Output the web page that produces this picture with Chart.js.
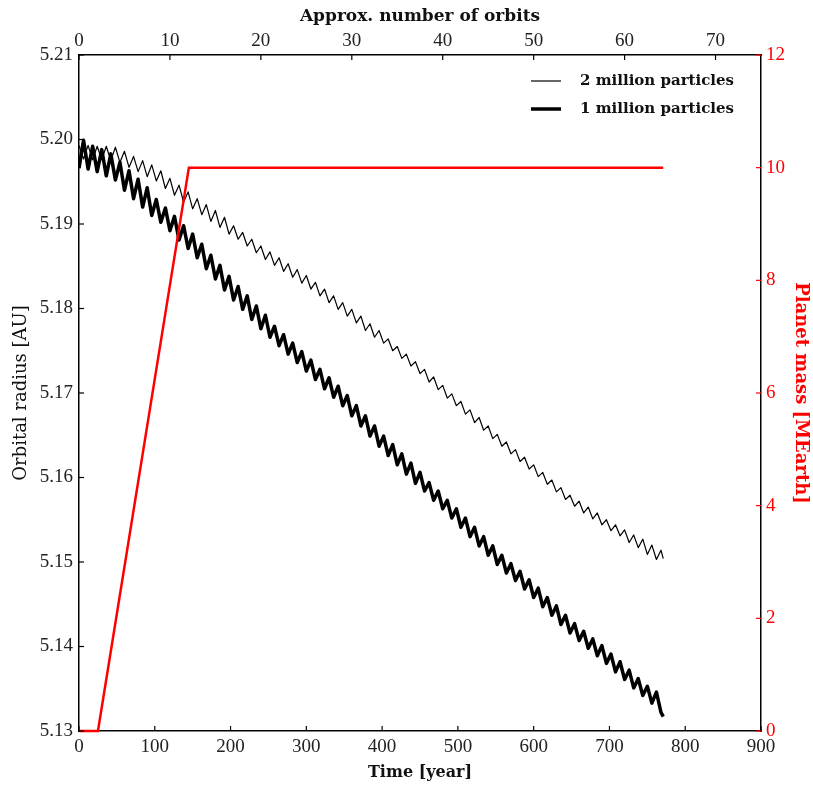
<!DOCTYPE html>
<html>
<head>
<meta charset="utf-8">
<script src="https://cdn.jsdelivr.net/npm/chart.js@4.4.0/dist/chart.umd.min.js"></script>
<style>
  body { margin: 0; background: #fff; }
</style>
</head>
<body>
<canvas id="orbit" width="813" height="787"></canvas>
<script>
// time in years, sampled at the peaks/troughs of the orbital wiggle
var timeYears = [0,6,12,18,24,30,36,42,48,54,60,66,72,78,84,90,96,102,108,114,120,126,132,138,144,150,156,162,168,174,180,186,192,198,204,210,216,222,228,234,240,246,252,258,264,270,276,282,288,294,300,306,312,318,324,330,336,342,348,354,360,366,372,378,384,390,396,402,408,414,420,426,432,438,444,450,456,462,468,474,480,486,492,498,504,510,516,522,528,534,540,546,552,558,564,570,576,582,588,594,600,606,612,618,624,630,636,642,648,654,660,666,672,678,684,690,696,702,708,714,720,726,732,738,744,750,756,762,768,771];

// orbital radius [AU], 2 million particles
var radius2M = [5.1993,5.1977,5.1993,5.1976,5.1992,5.1976,5.1992,5.1975,5.1991,
  5.1973,5.1986,5.1967,5.1980,5.1962,5.1975,5.1956,5.1970,
  5.1951,5.1963,5.1942,5.1954,5.1934,5.1946,5.1926,5.1938,5.1918,
  5.1930,5.1911,5.1923,5.1903,5.1916,5.1896,5.1908,5.1888,
  5.1898,5.1882,5.1890,5.1874,5.1882,5.1866,5.1874,5.1858,
  5.1867,5.1851,5.1860,5.1844,5.1853,5.1837,5.1846,5.1830,5.1839,
  5.1823,5.1831,5.1815,5.1823,5.1807,5.1815,5.1799,5.1807,
  5.1791,5.1799,5.1783,5.1791,5.1774,5.1782,5.1766,5.1774,
  5.1759,5.1764,5.1750,5.1755,5.1741,5.1746,5.1732,5.1737,5.1723,
  5.1728,5.1713,5.1719,5.1704,5.1709,5.1694,5.1699,5.1685,
  5.1690,5.1675,5.1680,5.1665,5.1671,5.1656,5.1661,5.1646,
  5.1651,5.1637,5.1642,5.1628,5.1633,5.1619,5.1624,5.1610,5.1615,
  5.1601,5.1606,5.1592,5.1597,5.1583,5.1588,5.1574,5.1579,
  5.1566,5.1572,5.1558,5.1565,5.1551,5.1558,5.1544,5.1550,
  5.1537,5.1544,5.1531,5.1538,5.1523,5.1532,5.1517,5.1527,5.1509,5.1520,5.1503,5.1514,
  5.1504];

// orbital radius [AU], 1 million particles
var radius1M = [5.1966,5.1999,5.1965,5.1992,5.1962,5.1988,5.1957,5.1983,5.1952,
  5.1973,5.1940,5.1963,5.1930,5.1953,5.1920,5.1943,5.1910,
  5.1929,5.1902,5.1919,5.1892,5.1909,5.1881,5.1898,5.1871,5.1888,
  5.1860,5.1876,5.1847,5.1863,5.1835,5.1851,5.1822,5.1838,
  5.1810,5.1826,5.1799,5.1815,5.1787,5.1803,5.1776,5.1792,
  5.1766,5.1779,5.1756,5.1769,5.1746,5.1759,5.1736,5.1749,5.1726,
  5.1739,5.1716,5.1728,5.1705,5.1718,5.1695,5.1708,5.1685,
  5.1697,5.1673,5.1685,5.1661,5.1673,5.1649,5.1661,5.1637,
  5.1649,5.1626,5.1639,5.1615,5.1628,5.1604,5.1617,5.1593,5.1606,
  5.1584,5.1594,5.1573,5.1584,5.1563,5.1573,5.1552,5.1563,
  5.1541,5.1552,5.1530,5.1541,5.1519,5.1530,5.1508,5.1519,
  5.1497,5.1508,5.1487,5.1498,5.1478,5.1489,5.1468,5.1479,5.1458,
  5.1469,5.1447,5.1458,5.1437,5.1448,5.1426,5.1437,5.1416,
  5.1427,5.1407,5.1418,5.1398,5.1409,5.1389,5.1401,5.1380,
  5.1391,5.1370,5.1382,5.1361,5.1372,5.1351,5.1362,5.1342,5.1353,5.1333,5.1346,5.1322,
  5.1317];

// planet mass ramp
var massTime = [0, 25, 145, 771];
var massEarth = [0, 0, 10, 10];

var orbitTicks = [0, 10, 20, 30, 40, 50, 60, 70];
var legendLabels = ['2 million particles', '1 million particles'];

function pts(xs, ys) {
  return xs.map(function (x, i) { return { x: x, y: ys[i] }; });
}

Chart.defaults.font.family = 'Liberation Serif';
Chart.defaults.color = '#222';

// ticks pointing into the plot, like matplotlib
var innerTicks = {
  id: 'innerTicks',
  afterDraw: function (chart) {
    var ctx = chart.ctx, a = chart.chartArea, len = 5;
    ctx.save();
    ctx.lineWidth = 1.2;
    Object.keys(chart.scales).forEach(function (id) {
      var s = chart.scales[id];
      ctx.strokeStyle = id === 'y2' ? '#ff0000' : '#000';
      s.ticks.forEach(function (t) {
        var p = s.getPixelForValue(t.value);
        ctx.beginPath();
        if (id === 'x') { ctx.moveTo(p, a.bottom); ctx.lineTo(p, a.bottom - len); }
        if (id === 'x2') { ctx.moveTo(p, a.top); ctx.lineTo(p, a.top + len); }
        if (id === 'y') { ctx.moveTo(a.left, p); ctx.lineTo(a.left + len, p); }
        if (id === 'y2') { ctx.moveTo(a.right, p); ctx.lineTo(a.right - len, p); }
        ctx.stroke();
      });
    });
    ctx.restore();
  }
};

// legend in the upper right corner of the plot
var cornerLegend = {
  id: 'cornerLegend',
  afterDraw: function (chart) {
    var ctx = chart.ctx, a = chart.chartArea;
    var widths = [1.2, 3.5];
    ctx.save();
    ctx.font = 'bold 15px "DejaVu Serif"';
    ctx.fillStyle = '#111';
    ctx.textBaseline = 'middle';
    legendLabels.forEach(function (lab, i) {
      var y = a.top + 26 + i * 28;
      ctx.strokeStyle = '#000';
      ctx.lineWidth = widths[i];
      ctx.beginPath();
      ctx.moveTo(a.right - 230, y);
      ctx.lineTo(a.right - 200, y);
      ctx.stroke();
      ctx.fillText(lab, a.right - 181, y);
    });
    ctx.restore();
  }
};

new Chart(document.getElementById('orbit').getContext('2d'), {
  type: 'line',
  data: {
    datasets: [{
      label: 'Planet mass',
      data: pts(massTime, massEarth),
      yAxisID: 'y2',
      xAxisID: 'x',
      borderColor: '#ff0000',
      borderWidth: 2.5,
      pointRadius: 0,
      tension: 0,
      clip: 4
    }, {
      label: legendLabels[0],
      data: pts(timeYears, radius2M),
      yAxisID: 'y',
      xAxisID: 'x',
      borderColor: '#000',
      borderWidth: 1.2,
      borderJoinStyle: 'round',
      pointRadius: 0,
      tension: 0
    }, {
      label: legendLabels[1],
      data: pts(timeYears, radius1M),
      yAxisID: 'y',
      xAxisID: 'x',
      borderColor: '#000',
      borderWidth: 3.5,
      borderJoinStyle: 'round',
      pointRadius: 0,
      tension: 0
    }]
  },
  options: {
    responsive: false,
    animation: false,
    layout: { padding: 0 },
    plugins: { legend: { display: false }, tooltip: { enabled: false } },
    scales: {
      x: {
        type: 'linear', position: 'bottom', min: 0, max: 900,
        ticks: { stepSize: 100, padding: 5, font: { size: 19 } },
        grid: { display: false, drawTicks: false },
        border: { color: '#000', width: 1.5 },
        title: { display: true, text: 'Time [year]', color: '#111', padding: { top: 0, bottom: 5 },
                 font: { family: 'DejaVu Serif', weight: 'bold', size: 16 } },
        afterFit: function (s) { s.height = 56; }
      },
      x2: {
        type: 'linear', position: 'top', min: 0, max: 75, display: true,
        ticks: { stepSize: 10, padding: 3, font: { size: 19 } },
        afterBuildTicks: function (s) {
          s.ticks = orbitTicks.map(function (v) { return { value: v }; });
        },
        grid: { display: false, drawTicks: false },
        border: { color: '#000', width: 1.5 },
        title: { display: true, text: 'Approx. number of orbits', color: '#111', padding: { top: 6, bottom: 0 },
                 font: { family: 'DejaVu Serif', weight: 'bold', size: 17 } },
        afterFit: function (s) { s.height = 55; }
      },
      y: {
        type: 'linear', position: 'left', min: 5.13, max: 5.21,
        ticks: { stepSize: 0.01, padding: 6, font: { size: 19 },
                 callback: function (v) { return v.toFixed(2); } },
        grid: { display: false, drawTicks: false },
        border: { color: '#000', width: 1.5 },
        title: { display: true, text: 'Orbital radius [AU]', color: '#111', padding: { top: 11, bottom: 0 },
                 font: { family: 'DejaVu Serif', size: 18 } },
        afterFit: function (s) { s.width = 79; }
      },
      y2: {
        type: 'linear', position: 'right', min: 0, max: 12,
        ticks: { stepSize: 2, padding: 5, color: '#ff0000', font: { size: 19 } },
        grid: { display: false, drawTicks: false },
        border: { color: '#000', width: 1.5 },
        title: { display: true, text: 'Planet mass [MEarth]', color: '#ff0000', padding: { top: 2, bottom: 0 },
                 font: { family: 'DejaVu Serif', weight: 'bold', size: 18 } },
        afterFit: function (s) { s.width = 52; }
      }
    }
  },
  plugins: [innerTicks, cornerLegend]
});
</script>
</body>
</html>
